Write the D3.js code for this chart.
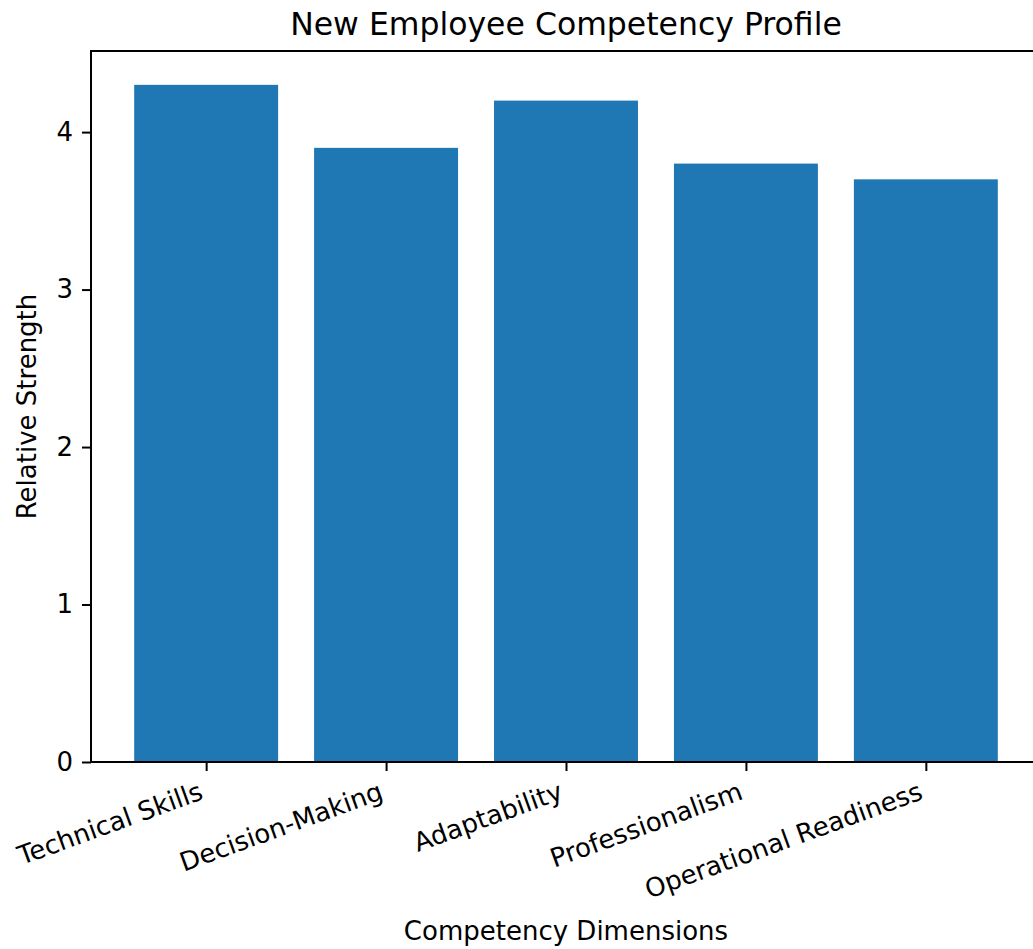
<!DOCTYPE html>
<html>
<head>
<meta charset="utf-8">
<script src="https://cdn.jsdelivr.net/npm/d3@7"></script>
<style>
  body { margin: 0; background: #fff; }
  text { font-family: "DejaVu Sans", sans-serif; fill: #000; }
</style>
</head>
<body>
<div id="chart"></div>
<script>
// Data
let categories = ["Technical Skills", "Decision-Making", "Adaptability", "Professionalism", "Operational Readiness"];
let values = [4.3, 3.9, 4.2, 3.8, 3.7];
let yTicks = [0, 1, 2, 3, 4];

let svgWidth = 1033;
let svgHeight = 949;
let axLeft = 91, axRight = 1041, axTop = 51, axBottom = 762;
let fontSize = 26;
let tickLen = 9, tickPad = 9;

let svg = d3.select("#chart").append("svg")
  .attr("width", svgWidth)
  .attr("height", svgHeight);

// matplotlib-style limits: 5% margins on x, 5% headroom on y
let xMin = -0.4, xMax = categories.length - 1 + 0.4;
let xPad = (xMax - xMin) * 0.05;
let xScale = d3.scaleLinear().domain([xMin - xPad, xMax + xPad]).range([axLeft, axRight]);
let yScale = d3.scaleLinear().domain([0, d3.max(values) * 1.05]).range([axBottom, axTop]);

// Bars
svg.append("g").selectAll("rect")
  .data(values)
  .enter()
  .append("rect")
  .attr("x", (d, i) => xScale(i - 0.4))
  .attr("width", (d, i) => xScale(i + 0.4) - xScale(i - 0.4))
  .attr("y", d => yScale(d))
  .attr("height", d => yScale(0) - yScale(d))
  .attr("fill", "#1f77b4");

// Y axis
let yAxis = svg.append("g")
  .attr("transform", `translate(${axLeft},0)`)
  .call(d3.axisLeft(yScale).tickValues(yTicks).tickFormat(d3.format("d")).tickSize(tickLen).tickPadding(tickPad));
yAxis.select(".domain").remove();
yAxis.selectAll("line").attr("stroke", "#000").attr("stroke-width", 2);
yAxis.selectAll("text").attr("font-size", fontSize).attr("font-family", "DejaVu Sans").attr("fill", "#000");

// X axis
let xAxis = svg.append("g")
  .attr("transform", `translate(0,${axBottom})`)
  .call(d3.axisBottom(xScale).tickValues(d3.range(categories.length)).tickFormat(i => categories[i]).tickSize(tickLen));
xAxis.select(".domain").remove();
xAxis.selectAll("line").attr("stroke", "#000").attr("stroke-width", 2);

// rotated labels, right edge at tick, top below tick pad
let rot = 20, rad = rot * Math.PI / 180;
let asc = 0.76 * fontSize, desc = 0.236 * fontSize;
xAxis.selectAll("text")
  .attr("font-size", fontSize)
  .attr("font-family", "DejaVu Sans")
  .attr("fill", "#000")
  .attr("y", 0)
  .attr("dy", null)
  .attr("text-anchor", "end")
  .attr("transform", `translate(${-desc * Math.sin(rad)},${tickLen + tickPad + asc * Math.cos(rad)}) rotate(${-rot})`);

// Spines
svg.append("rect")
  .attr("x", axLeft)
  .attr("y", axTop)
  .attr("width", axRight - axLeft)
  .attr("height", axBottom - axTop)
  .attr("fill", "none")
  .attr("stroke", "#000")
  .attr("stroke-width", 2);

// Title and labels
svg.append("text")
  .attr("x", (axLeft + axRight) / 2)
  .attr("y", 35)
  .attr("text-anchor", "middle")
  .attr("font-size", 31.5)
  .text("New Employee Competency Profile");

svg.append("text")
  .attr("x", (axLeft + axRight) / 2)
  .attr("y", 940)
  .attr("text-anchor", "middle")
  .attr("font-size", fontSize)
  .text("Competency Dimensions");

svg.append("text")
  .attr("transform", `translate(36,${(axTop + axBottom) / 2}) rotate(-90)`)
  .attr("text-anchor", "middle")
  .attr("font-size", fontSize)
  .text("Relative Strength");
</script>
</body>
</html>
